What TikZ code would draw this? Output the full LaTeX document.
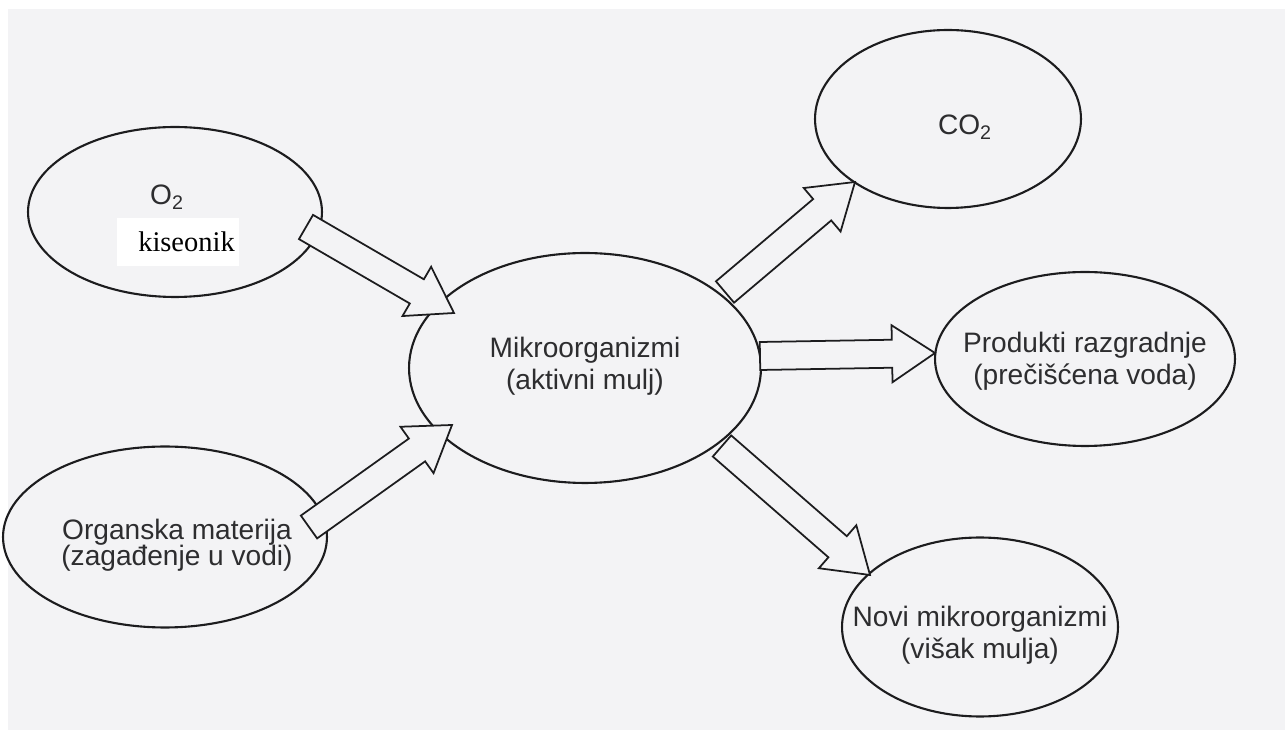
\documentclass[tikz,border=0pt]{standalone}
\usepackage{fontspec}
\setmainfont{Liberation Sans}
\newfontfamily\overlayfont{Liberation Serif}
\usetikzlibrary{calc,shapes.geometric}

\definecolor{paper}{RGB}{243,243,245}
\definecolor{ink}{RGB}{28,28,30}
\definecolor{txt}{RGB}{45,45,47}

% block arrow from tail coordinate #1 to tip coordinate #2
\newcommand{\flowarrow}[2]{%
  \coordinate (neck) at ($(#2)!0.86cm!(#1)$);
  \path[flow]
    ($(#1)!0.28cm!90:(#2)$) --
    ($(neck)!0.28cm!90:(#2)$) --
    ($(neck)!0.57cm!90:(#2)$) --
    (#2) --
    ($(neck)!0.57cm!-90:(#2)$) --
    ($(neck)!0.28cm!-90:(#2)$) --
    ($(#1)!0.28cm!-90:(#2)$) -- cycle;
}

\begin{document}
\begin{tikzpicture}[x=0.02cm,y=-0.02cm,
  bubble/.style={ellipse,draw=ink,line width=1.2pt,inner sep=0pt,fill=paper},
  lbl/.style={font=\fontsize{16}{18}\selectfont,text=txt,align=center,inner sep=0pt},
  flow/.style={draw=ink,line width=1pt,fill=paper,line join=miter}
]
\useasboundingbox (0,0) rectangle (1285,732);
\fill[white] (0,0) rectangle (1285,732);
\fill[paper] (8,9) rectangle (1285,730);

% ellipses
\node[bubble,minimum width=5.88cm,minimum height=3.40cm] (oxy) at (175,212) {};
\node[bubble,minimum width=6.48cm,minimum height=3.62cm] (org) at (165,537) {};
\node[bubble,minimum width=7.04cm,minimum height=4.60cm] (mikro) at (585,368) {};
\node[bubble,minimum width=5.32cm,minimum height=3.56cm] (co) at (948,119) {};
\node[bubble,minimum width=6.00cm,minimum height=3.48cm] (prod) at (1085,359) {};
\node[bubble,minimum width=5.52cm,minimum height=3.58cm] (novi) at (980,627) {};

% labels
\node[lbl,anchor=base] (oxytxt) at (167,205) {O\textsubscript{2}};
\node[fill=white,inner sep=0pt,minimum width=2.44cm,minimum height=0.96cm] (kbox) at (178,242) {};
\node[font=\overlayfont\fontsize{16.2}{19}\selectfont,anchor=base,inner sep=0pt] (ktxt) at (186.5,252) {kiseonik};
\node[lbl,font=\fontsize{16}{15}\selectfont] (orgtxt) at (177,545) {Organska materija\\(zagađenje u vodi)};
\node[lbl] (mikrotxt) at (585,366) {Mikroorganizmi\\(aktivni mulj)};
\node[lbl,anchor=base] (cotxt) at (965,135) {CO\textsubscript{2}};
\node[lbl] (prodtxt) at (1085,361) {Produkti razgradnje\\(prečišćena voda)};
\node[lbl] (novitxt) at (980,635) {Novi mikroorganizmi\\(višak mulja)};

% arrow ends
\coordinate (oxy-out) at (306,227);
\coordinate (mikro-in1) at (454,313);
\coordinate (org-out) at (309,527);
\coordinate (mikro-in2) at (452,425);
\coordinate (mikro-out1) at (725,292);
\coordinate (co-in) at (855,182);
\coordinate (mikro-out2) at (760,356);
\coordinate (prod-in) at (935,353);
\coordinate (mikro-out3) at (722,446);
\coordinate (novi-in) at (870,575);

\flowarrow{oxy-out}{mikro-in1}
\flowarrow{org-out}{mikro-in2}
\flowarrow{mikro-out1}{co-in}
\flowarrow{mikro-out2}{prod-in}
\flowarrow{mikro-out3}{novi-in}
\end{tikzpicture}
\end{document}
